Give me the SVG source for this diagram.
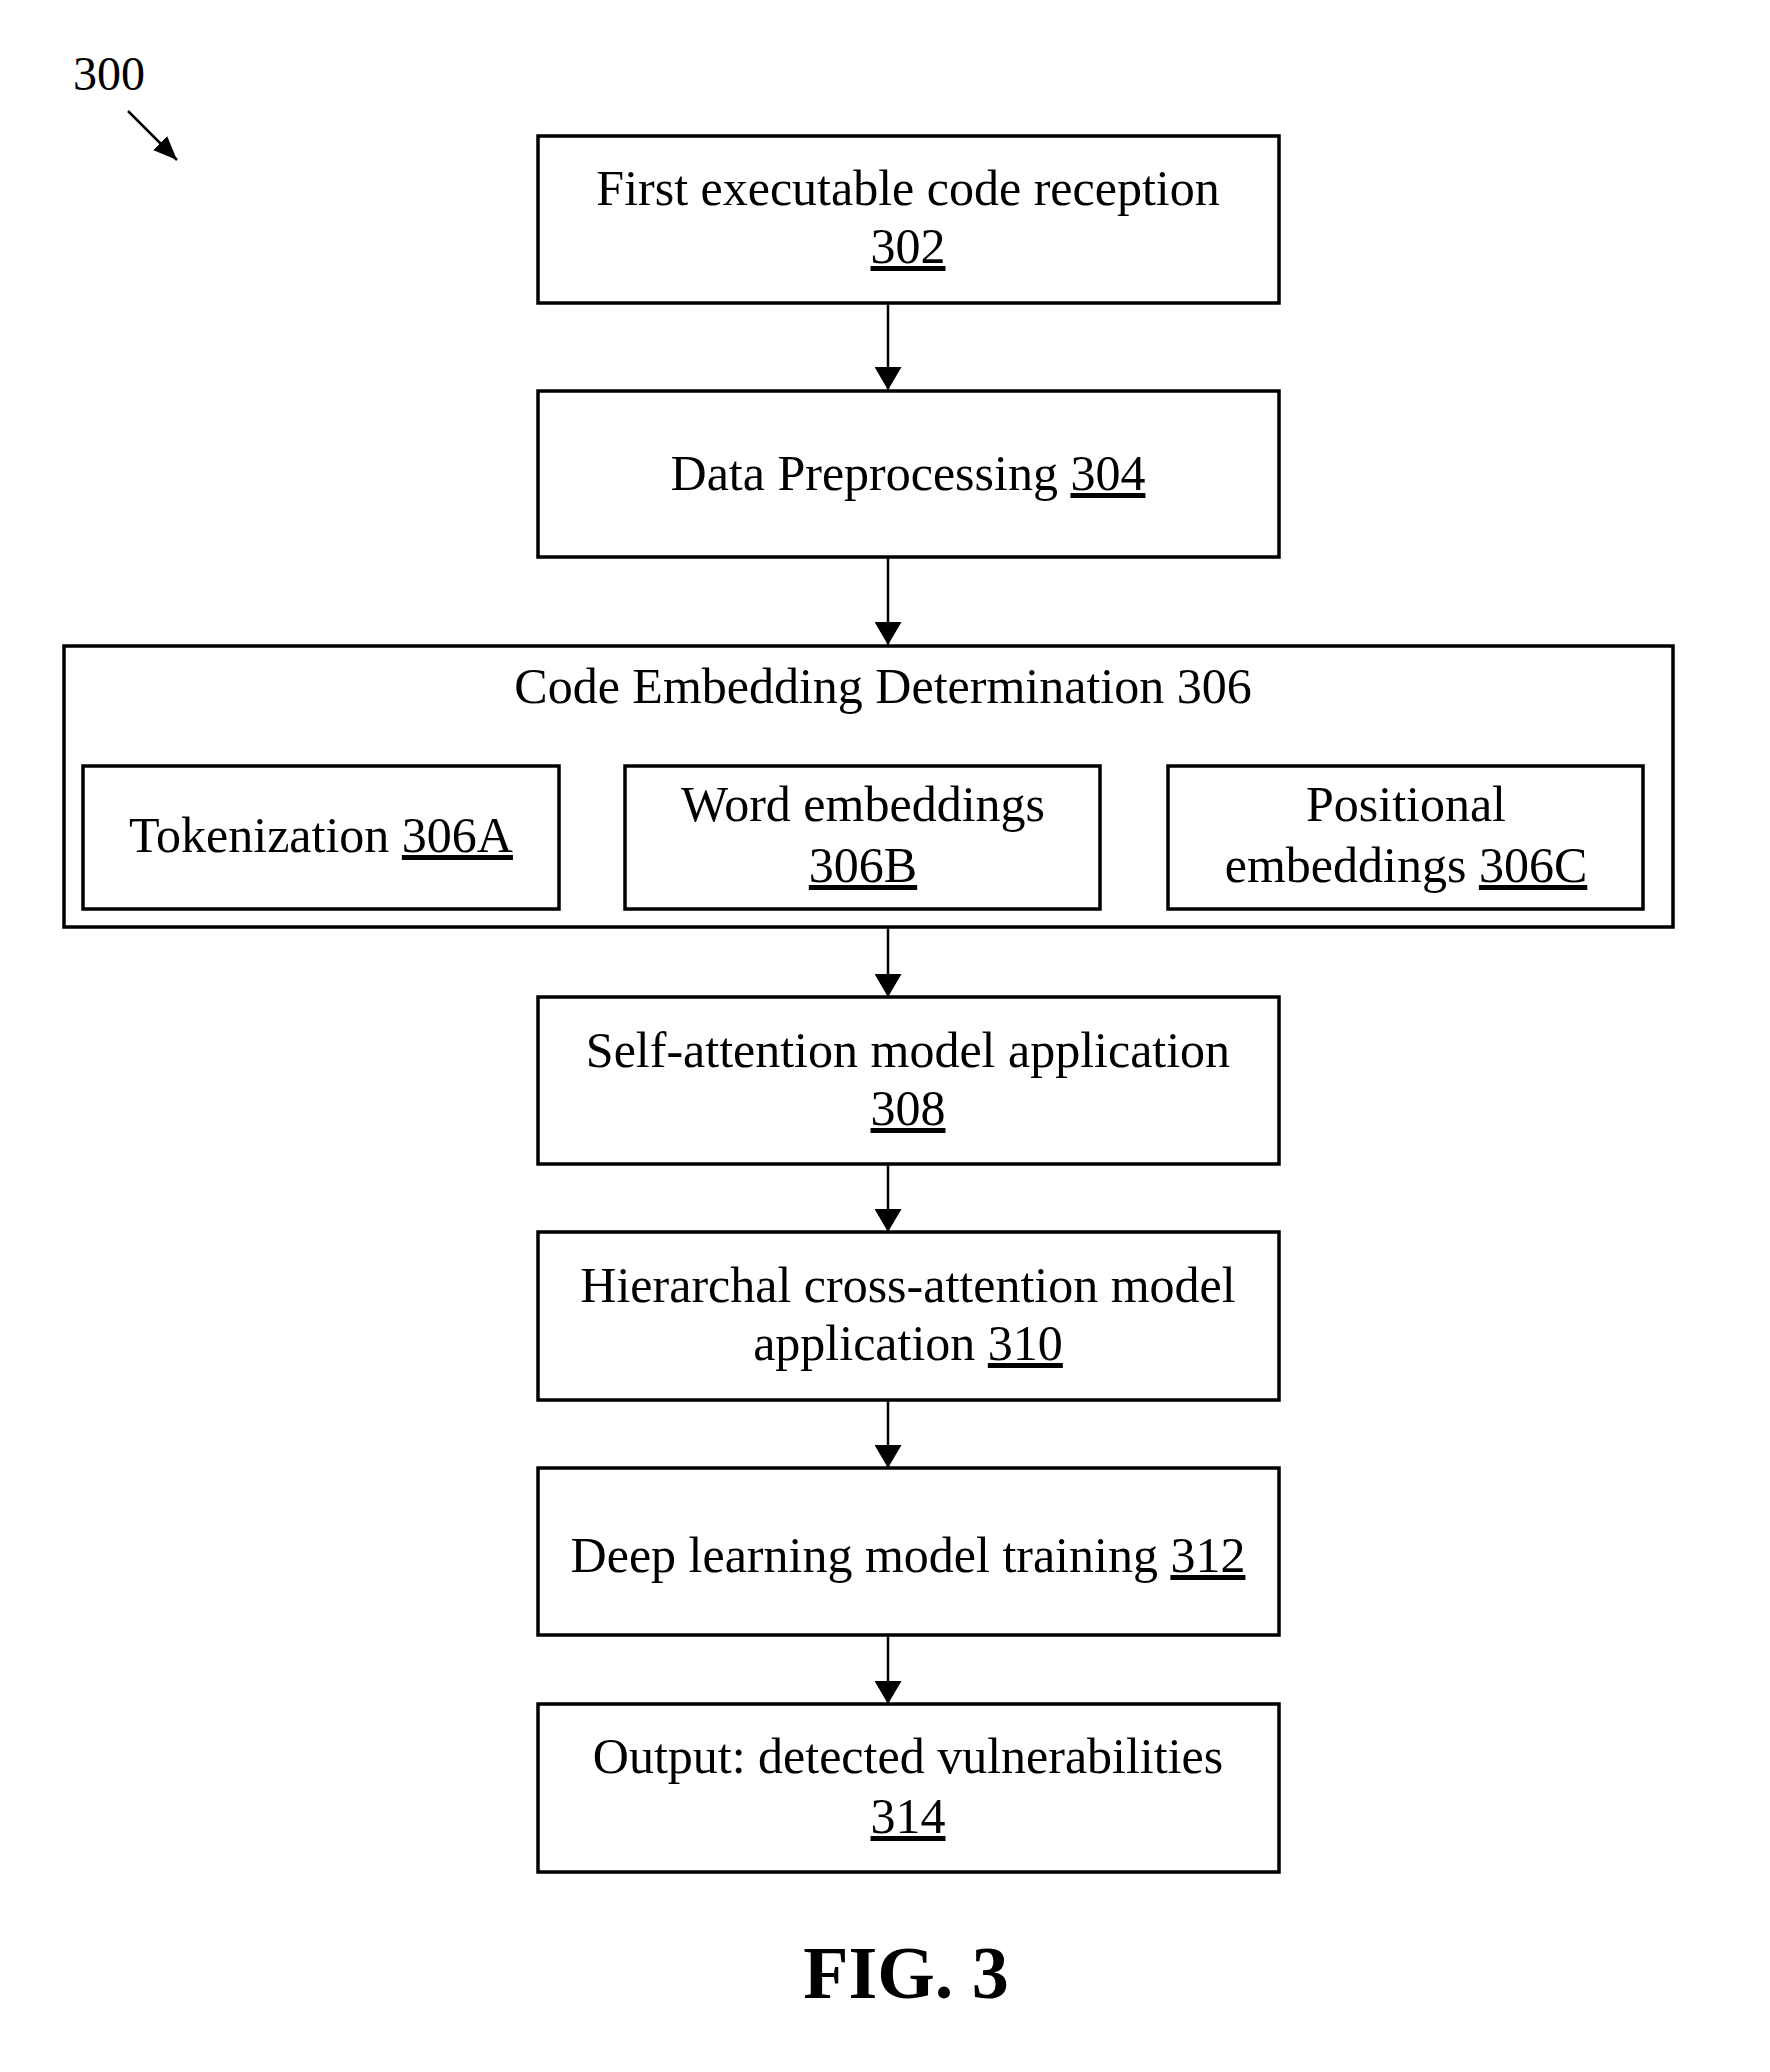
<svg xmlns="http://www.w3.org/2000/svg" width="1770" height="2072" viewBox="0 0 1770 2072">
<style>
.box{fill:#fff;stroke:#000;stroke-width:3.5}
.t{font-family:"Liberation Serif","Times New Roman",serif;font-size:50px;fill:#000;text-anchor:middle}
.u{text-decoration:underline}
.c{stroke:#000;stroke-width:2.5;fill:none}
</style>
<defs>
<marker id="ah" markerUnits="userSpaceOnUse" markerWidth="23" markerHeight="27" refX="23" refY="13.5" orient="auto" viewBox="0 0 23 27">
<path d="M0,0 L23,13.5 L0,27 Z" fill="#000"/>
</marker>
<marker id="ah2" markerUnits="userSpaceOnUse" markerWidth="24" markerHeight="20" refX="24" refY="10" orient="auto" viewBox="0 0 24 20">
<path d="M0,0 L24,10 L0,20 Z" fill="#000"/>
</marker>
</defs>
<rect width="1770" height="2072" fill="#fff"/>
<g id="label300">
<text x="73" y="90" style="font-family:'Liberation Serif','Times New Roman',serif;font-size:48px">300</text>
<line x1="128" y1="111" x2="177" y2="160" class="c" stroke-width="3" marker-end="url(#ah2)"/>
</g>
<g id="connectors">
<line x1="888" y1="303" x2="888" y2="390" class="c" marker-end="url(#ah)"/>
<line x1="888" y1="557" x2="888" y2="645" class="c" marker-end="url(#ah)"/>
<line x1="888" y1="927" x2="888" y2="997" class="c" marker-end="url(#ah)"/>
<line x1="888" y1="1164" x2="888" y2="1232" class="c" marker-end="url(#ah)"/>
<line x1="888" y1="1400" x2="888" y2="1468" class="c" marker-end="url(#ah)"/>
<line x1="888" y1="1635" x2="888" y2="1704" class="c" marker-end="url(#ah)"/>
</g>
<g id="n302">
<rect class="box" x="538" y="136" width="741" height="167"/>
<text class="t" x="908" y="205">First executable code reception</text>
<text class="t" x="908" y="263"><tspan class="u">302</tspan></text>
</g>
<g id="n304">
<rect class="box" x="538" y="391" width="741" height="166"/>
<text class="t" x="908" y="490">Data Preprocessing <tspan class="u">304</tspan></text>
</g>
<g id="n306">
<rect class="box" x="64" y="646" width="1609" height="281"/>
<text class="t" x="883" y="703">Code Embedding Determination 306</text>
</g>
<g id="n306A">
<rect class="box" x="83" y="766" width="476" height="143"/>
<text class="t" x="321" y="852">Tokenization <tspan class="u">306A</tspan></text>
</g>
<g id="n306B">
<rect class="box" x="625" y="766" width="475" height="143"/>
<text class="t" x="863" y="821">Word embeddings</text>
<text class="t" x="863" y="882"><tspan class="u">306B</tspan></text>
</g>
<g id="n306C">
<rect class="box" x="1168" y="766" width="475" height="143"/>
<text class="t" x="1406" y="821">Positional</text>
<text class="t" x="1406" y="882">embeddings <tspan class="u">306C</tspan></text>
</g>
<g id="n308">
<rect class="box" x="538" y="997" width="741" height="167"/>
<text class="t" x="908" y="1067">Self-attention model application</text>
<text class="t" x="908" y="1125"><tspan class="u">308</tspan></text>
</g>
<g id="n310">
<rect class="box" x="538" y="1232" width="741" height="168"/>
<text class="t" x="908" y="1302">Hierarchal cross-attention model</text>
<text class="t" x="908" y="1360">application <tspan class="u">310</tspan></text>
</g>
<g id="n312">
<rect class="box" x="538" y="1468" width="741" height="167"/>
<text class="t" x="908" y="1572">Deep learning model training <tspan class="u">312</tspan></text>
</g>
<g id="n314">
<rect class="box" x="538" y="1704" width="741" height="168"/>
<text class="t" x="908" y="1773">Output: detected vulnerabilities</text>
<text class="t" x="908" y="1833"><tspan class="u">314</tspan></text>
</g>
<g id="caption">
<text x="906" y="1998" style="font-family:'Liberation Serif','Times New Roman',serif;font-size:74px;font-weight:bold;text-anchor:middle">FIG. 3</text>
</g>
</svg>
